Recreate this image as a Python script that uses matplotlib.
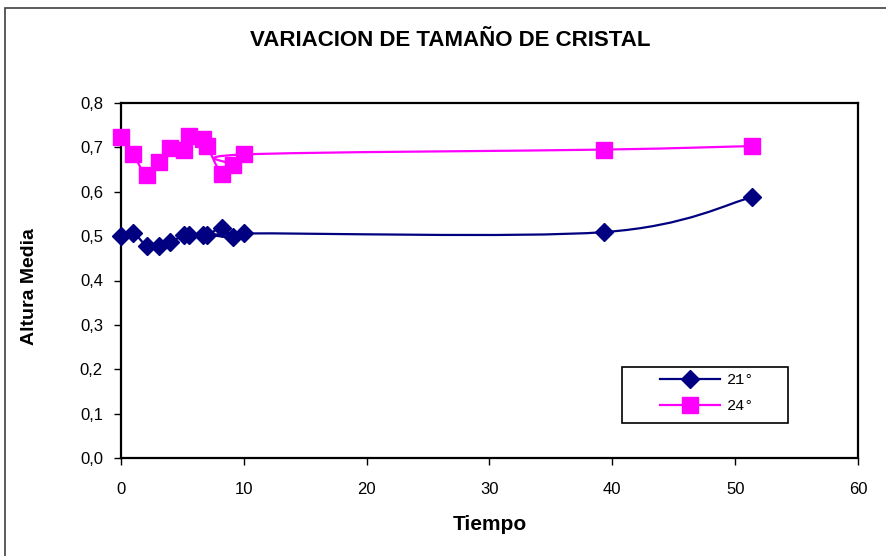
import matplotlib
matplotlib.use("Agg")
import matplotlib.pyplot as plt
from matplotlib.path import Path
from matplotlib.patches import PathPatch, Rectangle
from matplotlib.lines import Line2D
from matplotlib.ticker import FuncFormatter

# Data
tiempo = [0, 1, 2.1, 3.1, 4, 5.1, 5.5, 6.7, 7, 8.2, 9.1, 10, 39.3, 51.4]
serie_21 = [0.50, 0.507, 0.478, 0.478, 0.486, 0.502, 0.502, 0.502, 0.502, 0.518, 0.498, 0.506, 0.509, 0.588]
serie_24 = [0.723, 0.684, 0.637, 0.668, 0.699, 0.693, 0.726, 0.719, 0.704, 0.641, 0.660, 0.684, 0.695, 0.703]
labels = ["21°", "24°"]
title = "VARIACION DE TAMAÑO DE CRISTAL"
xlabel = "Tiempo"
ylabel = "Altura Media"
xticks = [0, 10, 20, 30, 40, 50, 60]
yticks = [0.0, 0.1, 0.2, 0.3, 0.4, 0.5, 0.6, 0.7, 0.8]

NAVY = "#000080"
MAG = "#FF00FF"

plt.rcParams['font.family'] = ['Liberation Sans', 'DejaVu Sans']

fig = plt.figure(figsize=(8.86, 5.56), dpi=100)
W, H = 886, 556
ax = fig.add_axes([121 / W, 1 - 458 / H, (858 - 121) / W, (458 - 103) / H])

# outer chart border
fig.patches.append(Rectangle((5 / W, -0.05), 1.1, 1 - 8 / H + 0.05, transform=fig.transFigure,
                             fill=False, edgecolor="#404040", linewidth=1.2))


def smooth_path(xs, ys):
    pts = list(zip(xs, ys))
    n = len(pts)
    verts = [pts[0]]
    codes = [Path.MOVETO]
    for i in range(n - 1):
        p0 = pts[i - 1] if i > 0 else pts[i]
        p1 = pts[i]
        p2 = pts[i + 1]
        p3 = pts[i + 2] if i + 2 < n else pts[i + 1]
        c1 = (p1[0] + (p2[0] - p0[0]) / 6, p1[1] + (p2[1] - p0[1]) / 6)
        c2 = (p2[0] - (p3[0] - p1[0]) / 6, p2[1] - (p3[1] - p1[1]) / 6)
        verts += [c1, c2, p2]
        codes += [Path.CURVE4] * 3
    return Path(verts, codes)


for ys, col, mk, ms in [(serie_21, NAVY, "D", 9), (serie_24, MAG, "s", 11.5)]:
    ax.add_patch(PathPatch(smooth_path(tiempo, ys), facecolor="none", edgecolor=col,
                           linewidth=1.6, zorder=2))
    ax.plot(tiempo, ys, linestyle="none", marker=mk, markersize=ms, color=col,
            markeredgecolor=col, zorder=3, clip_on=False)

ax.set_xlim(0, 60)
ax.set_ylim(0, 0.8)
ax.set_xticks(xticks)
ax.set_yticks(yticks)
ax.yaxis.set_major_formatter(FuncFormatter(lambda v, p: f"{v:.1f}".replace(".", ",")))
ax.tick_params(axis="both", direction="out", length=5, width=1, labelsize=12, colors="black")
ax.tick_params(axis="x", pad=12)
ax.tick_params(axis="y", pad=8)
for s in ax.spines.values():
    s.set_linewidth(1.6)
    s.set_color("black")

fig.text(450 / W, 1 - 40 / H, title, ha="center", va="center", fontsize=16, fontweight="bold")
fig.text(490 / W, 1 - 525 / H, xlabel, ha="center", va="center", fontsize=15, fontweight="bold")
fig.text(30 / W, 1 - 287 / H, ylabel, ha="center", va="center", fontsize=14, fontweight="bold",
         rotation=90)

# legend frame drawn in pixel-aligned figure coords
fig.patches.append(Rectangle((622 / W, 1 - 423 / H), (788 - 622) / W, (423 - 367) / H,
                             transform=fig.transFigure, fill=True, facecolor="white",
                             edgecolor="black", linewidth=1.2, zorder=4))
handles = [Line2D([], [], color=NAVY, marker="D", markersize=9, linewidth=1.6),
           Line2D([], [], color=MAG, marker="s", markersize=11.5, linewidth=1.6)]
leg = fig.legend(handles, labels, loc="upper left",
                 bbox_to_anchor=(660 / W, 1 - 373 / H),
                 prop={"family": ["Liberation Mono", "DejaVu Sans Mono"], "size": 11},
                 frameon=False, handlelength=3.9, borderpad=0, labelspacing=0.8,
                 handletextpad=0.45, borderaxespad=0)
for t in leg.get_texts():
    t.set_fontfamily(["Liberation Mono", "DejaVu Sans Mono"])
leg.set_zorder(5)

fig.savefig("out.png", dpi=100)
